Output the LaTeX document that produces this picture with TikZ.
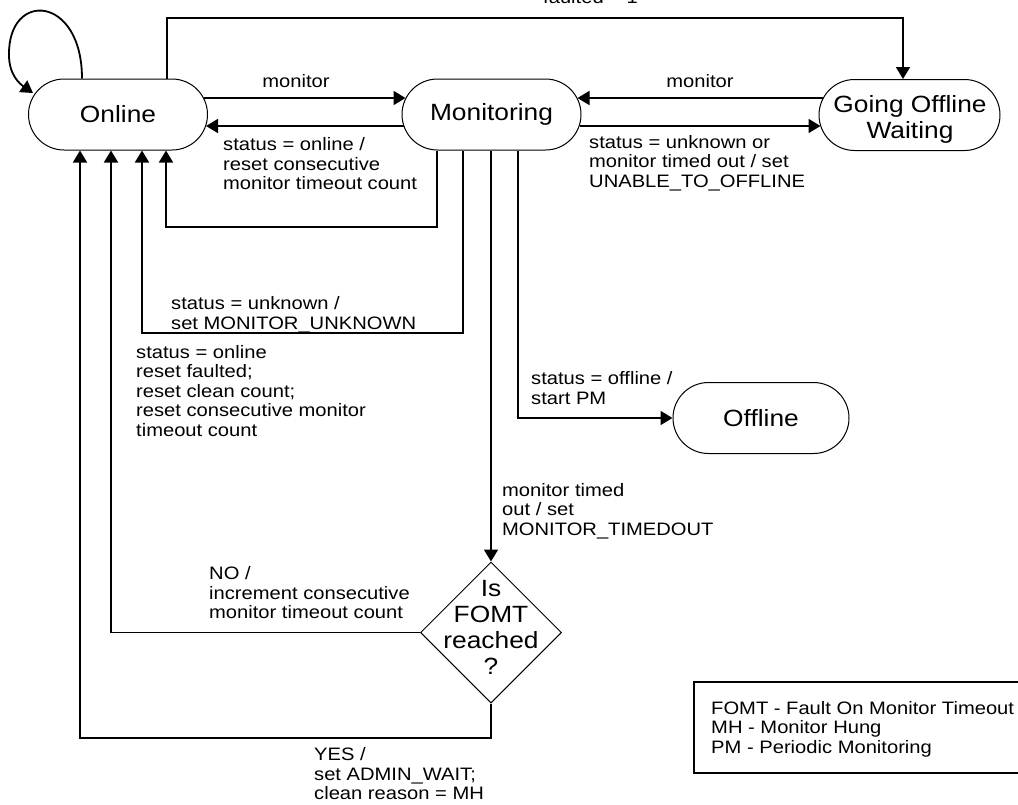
\documentclass[tikz,border=0pt]{standalone}
\usepackage{fontspec}
\setmainfont{Liberation Sans}[FakeStretch=1.12]
\usetikzlibrary{arrows.meta,shapes.geometric}
\begin{document}
\begin{tikzpicture}[x=1pt,y=-1pt,
  state/.style={rectangle, rounded corners=35.5pt, draw, line width=1pt, minimum width=179pt, minimum height=71pt, inner sep=0pt, font=\fontsize{23.5}{26}\selectfont, align=center},
  decision/.style={diamond, draw, line width=1pt, aspect=1, minimum width=141pt, minimum height=141pt, inner sep=0pt},
  bigtext/.style={font=\fontsize{23.5}{26}\selectfont, align=center, inner sep=0pt},
  conn/.style={line width=1.8pt, -{Triangle[length=12pt,width=14pt]}},
  lbl/.style={font=\fontsize{18}{19.5}\selectfont, align=left, inner sep=0pt, anchor=west},
  legendbox/.style={draw, line width=1.6pt}
]
\useasboundingbox (0,0) rectangle (1018,804);

% states
\node[state] (on) at (118,114.5) {Online};
\node[state] (mon) at (491.5,114.5) {Monitoring};
\node[state, minimum width=181pt] (gow) at (909.5,115) {};
\node[bigtext] (gowtext) at (910,119) {Going Offline\\Waiting};
\node[state, minimum width=176pt] (off) at (761,418) {Offline};
\node[decision] (fomt) at (491,632.5) {};
\node[bigtext] (fomttext) at (491,627) {Is\\FOMT\\reached\\?};

% helper coordinates
\coordinate (ftop) at (903,18);
\coordinate (fstart) at (167,0);
\coordinate (k1) at (437,227);
\coordinate (k1b) at (166,227);
\coordinate (k2) at (463,333);
\coordinate (k2b) at (142,333);
\coordinate (k3) at (518,418);
\coordinate (k5) at (111,0);
\coordinate (k6) at (80,738);
\coordinate (slend) at (33,93);

% self loop
\draw[conn] ([xshift=-36pt]on.north) .. controls (82,-5) and (8,-10) .. (9,55)
  .. controls (9,75) and (20,84) .. (slend);

% faulted
\draw[conn] (fstart |- on.north) -- (fstart |- ftop) -- (ftop) -- (ftop |- gow.north);

% horizontal transitions
\draw[conn] ([xshift=-4pt,yshift=16.5pt]on.east) -- ([xshift=4pt,yshift=16.5pt]mon.west);
\draw[conn] ([xshift=2pt,yshift=-11.5pt]mon.west) -- ([xshift=-2pt,yshift=-11.5pt]on.east);
\draw[conn] ([xshift=4pt,yshift=17pt]gow.west) -- ([xshift=-4pt,yshift=16.5pt]mon.east);
\draw[conn] ([xshift=-2pt,yshift=-11.5pt]mon.east) -- ([xshift=2pt,yshift=-11pt]gow.west);

% loops back to Online
\draw[conn] (k1 |- mon.south) -- (k1) -- (k1b) -- (k1b |- on.south);
\draw[conn] (k2 |- mon.south) -- (k2) -- (k2b) -- (k2b |- on.south);
\draw[conn] (k3 |- mon.south) -- (k3) -- (off.west);
\draw[conn] (fomt.north |- mon.south) -- (fomt.north);
\draw[conn] (fomt.west) -- (k5 |- fomt.west) -- (k5 |- on.south);
\draw[conn] (fomt.south) -- (fomt.south |- k6) -- (k6) -- (k6 |- on.south);

% labels
\node[lbl, anchor=base west] (lfault) at (543,3) {faulted = 1};
\node[lbl, anchor=center] (lmon1) at (296,81) {monitor};
\node[lbl] (lon) at (223,164) {status = online /\\reset consecutive\\monitor timeout count};
\node[lbl, anchor=center] (lmon2) at (700,81) {monitor};
\node[lbl] (lunk) at (589,163) {status = unknown or\\monitor timed out / set\\UNABLE\_TO\_OFFLINE};
\node[lbl] (lunk2) at (171,315) {status = unknown /\\set MONITOR\_UNKNOWN};
\node[lbl] (lreset) at (136,391) {status = online\\reset faulted;\\reset clean count;\\reset consecutive monitor\\timeout count};
\node[lbl] (loff) at (531,388) {status = offline /\\start PM};
\node[lbl] (ltime) at (502,511) {monitor timed\\out / set\\MONITOR\_TIMEDOUT};
\node[lbl] (lno) at (209,593) {NO /\\increment consecutive\\monitor timeout count};
\node[lbl] (lyes) at (314,774) {YES /\\set ADMIN\_WAIT;\\clean reason = MH};

% legend (right edge runs past the picture)
\node[legendbox, anchor=north west, minimum width=340pt, minimum height=91pt, inner sep=0pt] (legend) at (693,681) {};
\node[lbl] (legendtext) at (711,729) {FOMT - Fault On Monitor Timeout\\MH - Monitor Hung\\PM - Periodic Monitoring};
\end{tikzpicture}
\end{document}
